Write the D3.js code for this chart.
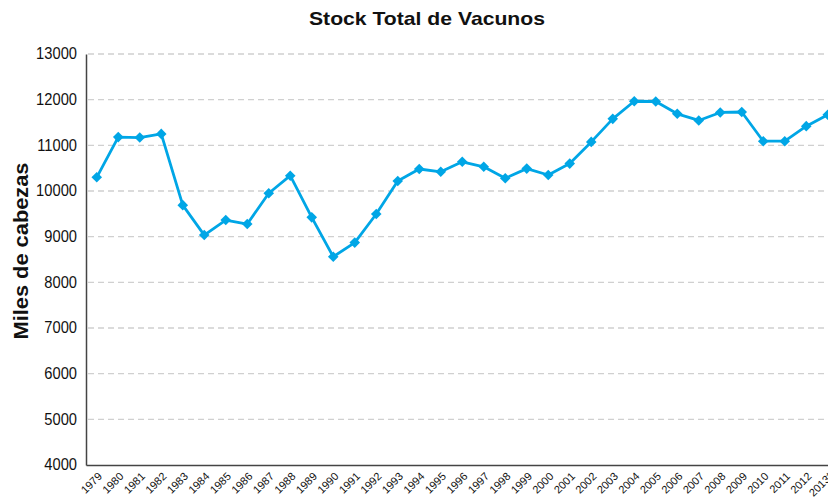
<!DOCTYPE html>
<html><head><meta charset="utf-8">
<script src="https://cdn.jsdelivr.net/npm/d3@7/dist/d3.min.js"></script>
<style>
body{margin:0;background:#fff;}
svg{display:block;}
</style></head>
<body><svg id="c" width="828" height="502"></svg>
<script>
const years = ["1979","1980","1981","1982","1983","1984","1985","1986","1987","1988","1989","1990","1991","1992","1993","1994","1995","1996","1997","1998","1999","2000","2001","2002","2003","2004","2005","2006","2007","2008","2009","2010","2011","2012","2013*"];
const stock = [10300,11180,11170,11250,9690,9035,9364,9276,9950,10335,9423,8560,8870,9496,10220,10482,10420,10640,10530,10278,10490,10350,10600,11075,11580,11965,11960,11690,11545,11720,11730,11090,11090,11420,11670];
const yTicks = [4000,5000,6000,7000,8000,9000,10000,11000,12000,13000];
const title = "Stock Total de Vacunos";
const yTitle = "Miles de cabezas";

(function(){
const svg = d3.select("#c");
const mLeft = 86, mTop = 54, mBottom = 465, mRight = 838.5;
const x = d3.scaleBand().domain(years).range([mLeft, mRight]);
const y = d3.scaleLinear().domain([4000, 13000]).range([mBottom, mTop]);
const cx = d => x(d) + x.bandwidth()/2;
const sans = "'Liberation Sans',Arial,sans-serif";

// gridlines
svg.append("g").selectAll("line").data(yTicks.filter(t => t > 4000)).join("line")
  .attr("x1", mLeft + 2).attr("x2", 828)
  .attr("y1", d => y(d)).attr("y2", d => y(d))
  .attr("stroke", "#d0d0d0").attr("stroke-width", 1.3).attr("stroke-dasharray", "6,4");

// y axis
const ya = svg.append("g").attr("transform", `translate(${mLeft},0)`)
  .call(d3.axisLeft(y).tickValues(yTicks).tickSize(0).tickPadding(9).tickFormat(d3.format("d")));
ya.select(".domain").attr("stroke", "#444").attr("stroke-width", 1.5);
ya.selectAll("text").attr("font-family", sans).attr("font-size", 16).attr("fill", "#111")
  .attr("transform", "scale(0.92,1.05)").attr("x", -9/0.92).attr("dy", "0.32em")
  .attr("y", 0);
ya.selectAll(".tick").each(function(d){
  d3.select(this).attr("transform", `translate(0,${y(d)})`);
});

// x axis
const xa = svg.append("g").attr("transform", `translate(0,${mBottom})`)
  .call(d3.axisBottom(x).tickSize(0).tickPadding(0));
xa.select(".domain").attr("stroke", "#444").attr("stroke-width", 1.5);
xa.selectAll("text")
  .attr("font-family", sans).attr("font-size", 11).attr("fill", "#111")
  .attr("text-anchor", "end").attr("dy", 0).attr("y", 0)
  .attr("transform", "translate(6,12) rotate(-45)");

// line
const line = d3.line().x((d, i) => cx(years[i])).y(d => y(d));
svg.append("path").datum(stock).attr("d", line)
  .attr("fill", "none").attr("stroke", "#00a6e6").attr("stroke-width", 2.8).attr("stroke-linejoin", "round");

// markers
svg.append("g").selectAll("path").data(stock).join("path")
  .attr("d", d3.symbol(d3.symbolSquare, 56))
  .attr("transform", (d, i) => `translate(${cx(years[i])},${y(d)}) rotate(45)`)
  .attr("fill", "#00a6e6");

// title
svg.append("text").attr("x", 427).attr("y", 25).attr("text-anchor", "middle")
  .attr("font-family", sans).attr("font-weight", "bold").attr("font-size", 19).attr("fill", "#111")
  .attr("textLength", 236).attr("lengthAdjust", "spacingAndGlyphs")
  .text(title);

// y title
svg.append("text").attr("transform", "translate(28,251) rotate(-90)").attr("text-anchor", "middle")
  .attr("font-family", sans).attr("font-weight", "bold").attr("font-size", 20).attr("fill", "#111")
  .attr("textLength", 177).attr("lengthAdjust", "spacingAndGlyphs")
  .text(yTitle);
})();
</script></body></html>
